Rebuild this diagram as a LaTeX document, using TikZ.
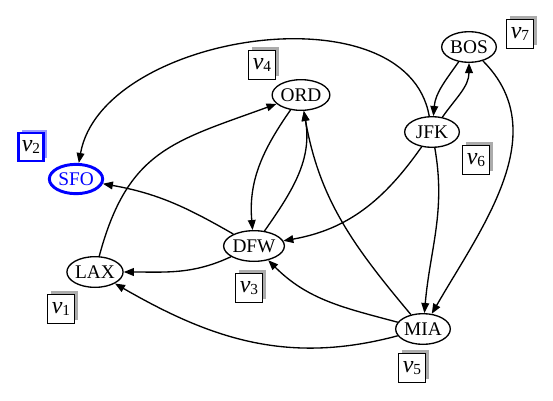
\documentclass[tikz,border=0pt]{standalone}
\usepackage{fontspec}
\setmainfont{Liberation Serif}
\usetikzlibrary{arrows.meta,shapes.geometric,shadows}
\newcommand{\vname}[1]{\textit{v}\raisebox{-1.5pt}{\fontsize{11.5}{12}\selectfont #1}}

\begin{document}
\begin{tikzpicture}[x=0.75pt,y=-0.75pt,
    airport/.style={ellipse,draw,line width=1pt,minimum width=41pt,minimum height=23pt,inner sep=0pt,font=\fontsize{14.5}{16}\selectfont},
    tag/.style={rectangle,draw,fill=white,line width=1pt,minimum width=20pt,minimum height=21.5pt,inner sep=0pt,font=\fontsize{18}{19}\selectfont,
        general shadow={shadow xshift=2.6pt,shadow yshift=2.6pt,fill=black!33}},
    flight/.style={line width=1pt,-{Triangle[length=7.5pt,width=5.8pt]}}]
    \useasboundingbox (0,0) rectangle (553,400);
    %Airports
    \node[airport] (lax) at (95,272) {LAX};
    \node[airport,draw=blue,text=blue,line width=2.2pt,minimum width=40pt,minimum height=22pt] (sfo) at (76,179) {SFO};
    \node[airport] (dfw) at (254,246) {DFW};
    \node[airport] (ord) at (301,95) {ORD};
    \node[airport] (mia) at (423,329) {MIA};
    \node[airport] (jfk) at (432,132) {JFK};
    \node[airport] (bos) at (469,47) {BOS};
    %Tags
    \node[tag] (v1) at (61,309) {\vname{1}};
    \node[tag,draw=blue,line width=2.2pt,minimum width=19pt,minimum height=21pt,
        general shadow={shadow xshift=2.6pt,shadow yshift=2.6pt,fill=blue!40}] (v2) at (31,147) {\vname{2}};
    \node[tag] (v3) at (249,288) {\vname{3}};
    \node[tag] (v4) at (262,65) {\vname{4}};
    \node[tag] (v5) at (412,368) {\vname{5}};
    \node[tag] (v6) at (476,160) {\vname{6}};
    \node[tag] (v7) at (520,34) {\vname{7}};
    %Flights
    \draw[flight] (jfk) to[out=100,in=80,looseness=0.95] (sfo);
    \draw[flight] (lax) to[out=75,in=200,looseness=1.2] (ord);
    \draw[flight] (dfw) to[out=150,in=-10] (sfo);
    \draw[flight] (dfw) to[out=205,in=0] (lax);
    \draw[flight] (ord) to[out=235,in=95] (dfw);
    \draw[flight] (dfw) to[out=55,in=-80] (ord);
    \draw[flight] (mia) to[out=130,in=-80] (ord);
    \draw[flight] (mia) to[out=165,in=-45] (dfw);
    \draw[flight] (mia) to[out=195,in=-30] (lax);
    \draw[flight] (jfk) to[out=235,in=10] (dfw);
    \draw[flight] (jfk) to[out=-80,in=85] (mia);
    \draw[flight] (bos) to[out=235,in=85] (jfk);
    \draw[flight] (jfk) to[out=55,in=-90] (bos);
    \draw[flight] (bos) to[out=-45,in=60] (mia);
\end{tikzpicture}
\end{document}
